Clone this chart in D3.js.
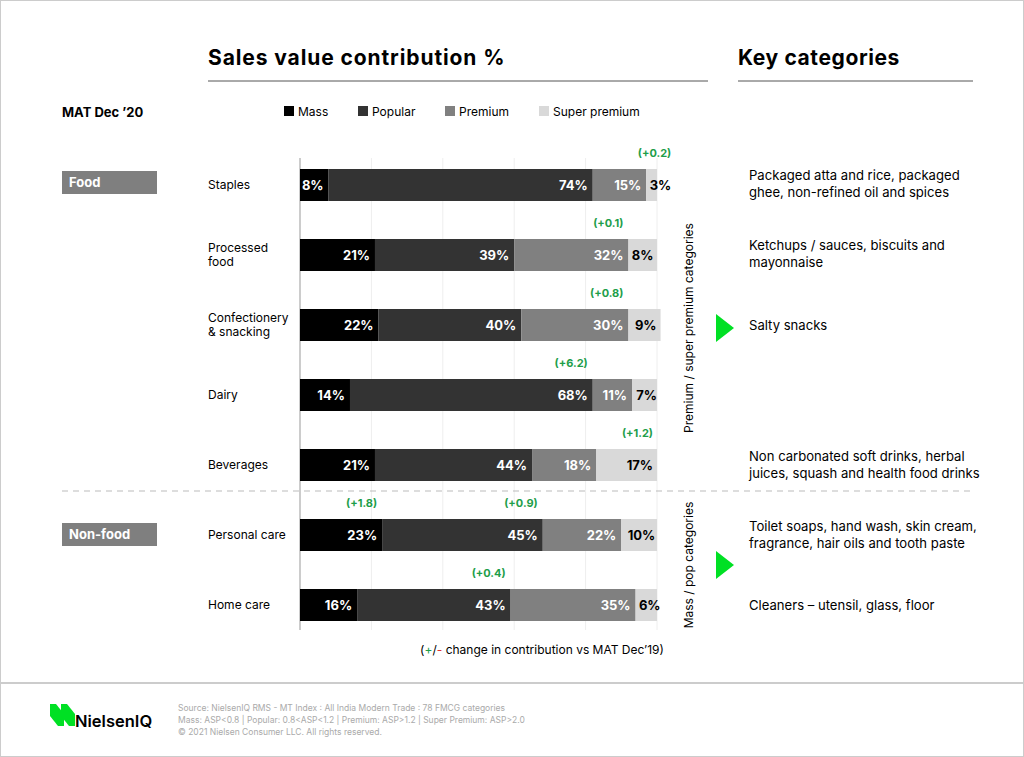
<!DOCTYPE html>
<html><head><meta charset="utf-8">
<script src="https://cdn.jsdelivr.net/npm/d3@7"></script>
<style>body{margin:0;background:#fff;font-family:Inter,"Noto Sans",sans-serif}</style>
</head><body><svg id="c" width="1024" height="757"></svg>
<script>
// data
const categories = ["Staples", "Processed food", "Confectionery & snacking", "Dairy", "Beverages", "Personal care", "Home care"];
const catLines = [["Staples"], ["Processed", "food"], ["Confectionery", "& snacking"], ["Dairy"], ["Beverages"], ["Personal care"], ["Home care"]];
const segments = ["Mass", "Popular", "Premium", "Super premium"];
const mass = [8, 21, 22, 14, 21, 23, 16];
const popular = [74, 39, 40, 68, 44, 45, 43];
const premium = [15, 32, 30, 11, 18, 22, 35];
const superPremium = [3, 8, 9, 7, 17, 10, 6];
// change annotations: [category index, segment index, text]
const changes = [[0, 3, "(+0.2)"], [1, 2, "(+0.1)"], [2, 2, "(+0.8)"], [3, 1, "(+6.2)"], [4, 3, "(+1.2)"], [5, 0, "(+1.8)"], [5, 1, "(+0.9)"], [6, 1, "(+0.4)"]];
const keyCats = [["Packaged atta and rice, packaged", "ghee, non-refined oil and spices"], ["Ketchups / sauces, biscuits and", "mayonnaise"], ["Salty snacks"], [], ["Non carbonated soft drinks, herbal", "juices, squash and health food drinks"], ["Toilet soaps, hand wash, skin cream,", "fragrance, hair oils and tooth paste"], ["Cleaners – utensil, glass, floor"]];
const colors = ["#000000", "#333333", "#808080", "#d9d9d9"];

const svg = d3.select("#c");
const x = d3.scaleLinear().domain([0, 100]).range([300, 657]);
const y = d3.scaleBand().domain(categories).range([148, 642]).paddingInner(0.543).paddingOuter(0.3);
const green = "#1e9e4a";

// frame & footer
svg.append("rect").attr("x", 0.5).attr("y", 0.5).attr("width", 1023).attr("height", 756).attr("fill", "none").attr("stroke", "#ccc");
svg.append("line").attr("x1", 0).attr("x2", 1024).attr("y1", 683).attr("y2", 683).attr("stroke", "#ccc").attr("stroke-width", 2);

// titles
svg.append("text").attr("x", 208).attr("y", 65).text("Sales value contribution %").attr("font-size", 21).attr("font-weight", 700).attr("letter-spacing", 0.9);
svg.append("line").attr("x1", 208).attr("x2", 708).attr("y1", 81).attr("y2", 81).attr("stroke", "#555");
svg.append("text").attr("x", 738).attr("y", 65).text("Key categories").attr("font-size", 21).attr("font-weight", 700).attr("letter-spacing", 0.6);
svg.append("line").attr("x1", 738).attr("x2", 973).attr("y1", 81).attr("y2", 81).attr("stroke", "#555");
svg.append("text").attr("x", 62).attr("y", 117).text("MAT Dec ’20").attr("font-size", 13).attr("font-weight", 700);

// legend
const lx = [284, 358, 445, 539];
const lg = svg.selectAll(".lg").data(segments).join("g").attr("transform", (d, i) => `translate(${lx[i]},106)`);
lg.append("rect").attr("width", 10).attr("height", 10).attr("fill", (d, i) => colors[i]);
lg.append("text").attr("x", 14).attr("y", 10).text(d => d).attr("font-size", 12);

// gridlines and axis
svg.selectAll(".g").data([20, 40, 60, 80, 100]).join("line").attr("x1", d => x(d)).attr("x2", d => x(d))
  .attr("y1", 158).attr("y2", 630).attr("stroke", "#eee");
svg.append("line").attr("x1", 300).attr("x2", 300).attr("y1", 158).attr("y2", 630).attr("stroke", "#999");

// group boxes and divider
[["Food", 171], ["Non-food", 523]].forEach(([t, yy]) => {
  svg.append("rect").attr("x", 62).attr("y", yy).attr("width", 95).attr("height", 23).attr("fill", "#7f7f7f");
  svg.append("text").attr("x", 69).attr("y", yy + 16).text(t).attr("fill", "#fff").attr("font-size", 13).attr("font-weight", 700);
});
svg.append("line").attr("x1", 62).attr("x2", 975).attr("y1", 491).attr("y2", 491).attr("stroke", "#bbb").attr("stroke-dasharray", "6,5");

// stacked bars
const table = categories.map((c, i) => ({cat: c, Mass: mass[i], Popular: popular[i], Premium: premium[i], "Super premium": superPremium[i]}));
const stack = d3.stack().keys(segments)(table);
const labelX = (s, d) => {
  const x0 = x(d[0]), x1 = x(d[1]);
  const w = String(d[1] - d[0]).length * 9 + 10;
  return s === 3 ? Math.max(x1 - 4, x0 + 6 + w) : x1 - 5;
};
stack.forEach((layer, s) => {
  svg.selectAll(".b" + s).data(layer).join("rect")
    .attr("x", d => x(d[0])).attr("width", d => x(d[1]) - x(d[0]))
    .attr("y", d => y(d.data.cat)).attr("height", y.bandwidth()).attr("fill", colors[s]);
  svg.selectAll(".t" + s).data(layer).join("text")
    .attr("x", d => labelX(s, d)).attr("y", d => y(d.data.cat) + y.bandwidth() / 2 + 5)
    .attr("text-anchor", "end").attr("font-size", 13).attr("font-weight", 700)
    .attr("fill", s === 3 ? "#000" : "#fff").text(d => (d[1] - d[0]) + "%");
});

// changes
svg.selectAll(".ch").data(changes).join("text")
  .attr("x", d => labelX(d[1], stack[d[1]][d[0]]))
  .attr("y", d => y(categories[d[0]]) - 12)
  .attr("text-anchor", "end").attr("font-size", 11).attr("font-weight", 700).attr("fill", green).text(d => d[2]);

// category labels
categories.forEach((c, i) => {
  const ls = catLines[i], cy = y(c) + y.bandwidth() / 2;
  ls.forEach((l, j) => svg.append("text").attr("x", 208).attr("y", cy + 4 + (j - (ls.length - 1) / 2) * 14).text(l).attr("font-size", 12));
  const ks = keyCats[i];
  ks.forEach((l, j) => svg.append("text").attr("x", 749).attr("y", cy + 5 + (j - (ks.length - 1) / 2) * 17 - (ks.length > 1 ? 1 : 0)).text(l).attr("font-size", 13.1));
});

// vertical labels + arrows
[["Premium / super premium categories", 328], ["Mass / pop categories", 565]].forEach(([t, cy]) => {
  svg.append("text").attr("transform", `translate(693,${cy}) rotate(-90)`).attr("text-anchor", "middle").text(t).attr("font-size", 12);
  svg.append("path").attr("d", `M716,${cy - 14}L734,${cy}L716,${cy + 14}Z`).attr("fill", "#00e024");
});
svg.append("text").attr("x", 542).attr("y", 654).attr("text-anchor", "middle").attr("font-size", 12)
  .html('(<tspan fill="#1e9e4a">+</tspan>/<tspan fill="#e03030">-</tspan> change in contribution vs MAT Dec’19)');

// footer
const logo = svg.append("g").attr("transform", "translate(50,704)");
[0, 11].forEach(dx => logo.append("path").attr("d", `M${dx},0h6l8,10v12h-6l-8,-10z`).attr("fill", "#00e024"));
svg.append("text").attr("x", 75).attr("y", 727).text("NielsenIQ").attr("font-size", 16.5).attr("font-weight", 600);
["Source: NielsenIQ RMS - MT Index : All India Modern Trade : 78 FMCG categories",
 "Mass: ASP<0.8 | Popular: 0.8<ASP<1.2 | Premium: ASP>1.2 | Super Premium: ASP>2.0",
 "© 2021 Nielsen Consumer LLC. All rights reserved."].forEach((t, i) =>
  svg.append("text").attr("x", 178).attr("y", 711 + i * 12).text(t).attr("font-size", 8.5).attr("fill", "#aaa"));
</script></body></html>
